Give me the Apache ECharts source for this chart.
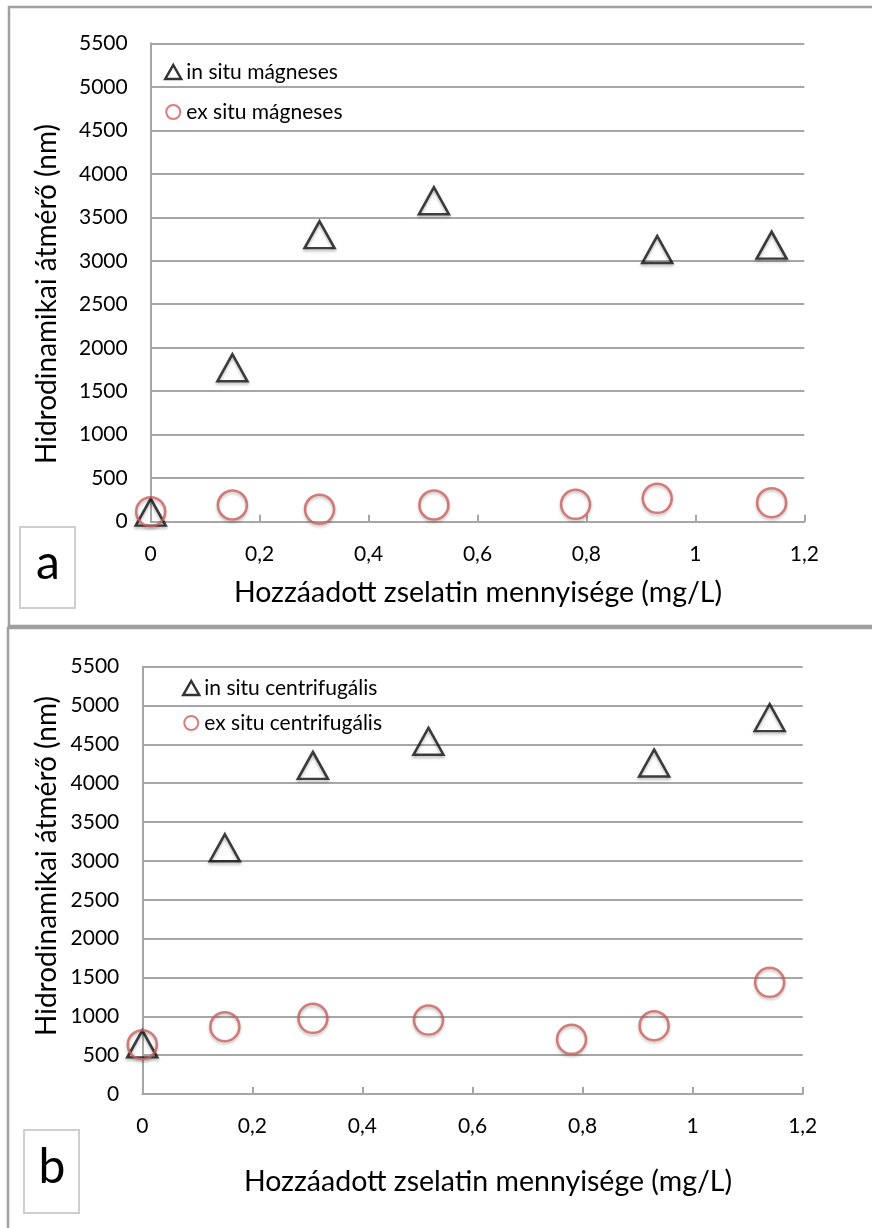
<!DOCTYPE html>
<html><head><meta charset="utf-8">
<script src="https://cdn.jsdelivr.net/npm/echarts@6/dist/echarts.min.js"></script>
<style>html,body{margin:0;padding:0;background:#fff}#c{width:872px;height:1228px}</style>
</head><body><div id="c"></div>
<script>
const xInSitu = [0, 0.15, 0.31, 0.52, 0.93, 1.14];
const xExSitu = [0, 0.15, 0.31, 0.52, 0.78, 0.93, 1.14];
const inSituMagn = [110, 1770, 3300, 3690, 3130, 3180];
const exSituMagn = [115, 192, 143, 192, 200, 269, 218];
const inSituCentr = [645, 3170, 4230, 4540, 4260, 4845];
const exSituCentr = [635, 866, 974, 952, 704, 879, 1437];
const namesA = ['in situ mágneses', 'ex situ mágneses'];
const namesB = ['in situ centrifugális', 'ex situ centrifugális'];
const yTitle = 'Hidrodinamikai átmérő (nm)';
const xTitle = 'Hozzáadott zselatin mennyisége (mg/L)';

const FONT = 'Lato';
const GRID_C = '#a6a6a6';
const pair = (xs, ys) => xs.map((x, i) => [x, ys[i]]);
const fmtX = v => String(+(+v).toFixed(1)).replace('.', ',');
const fmtY = v => String(Math.round(v));

function xAx(gi) {
  return {
    gridIndex: gi, type: 'value', min: 0, max: 1.2, interval: 0.2,
    axisLine: { lineStyle: { color: GRID_C, width: 2 } },
    axisTick: { inside: true, length: 7, lineStyle: { color: GRID_C, width: 2 } },
    splitLine: { show: false },
    axisLabel: { formatter: fmtX, color: '#000', fontFamily: FONT, fontSize: 21, margin: 22 }
  };
}
function yAx(gi) {
  return {
    gridIndex: gi, type: 'value', min: 0, max: 5500, interval: 500,
    axisLine: { show: true, lineStyle: { color: GRID_C, width: 2 } },
    axisTick: { show: false },
    splitLine: { lineStyle: { color: GRID_C, width: 2 } },
    axisLabel: { formatter: fmtY, color: '#000', fontFamily: FONT, fontSize: 21, margin: 23 }
  };
}
const triStyle = { color: 'rgba(255,255,255,0)', borderColor: '#111', borderWidth: 2.5,
  shadowColor: 'rgba(0,0,0,0.35)', shadowBlur: 3, shadowOffsetY: 2 };
const cirStyle = { color: 'rgba(255,255,255,0)', borderColor: '#cc5f5c', borderWidth: 2.5,
  shadowColor: 'rgba(0,0,0,0.3)', shadowBlur: 3, shadowOffsetY: 2 };

function tri(name, gi, data) {
  return { name, type: 'scatter', xAxisIndex: gi, yAxisIndex: gi, data,
    symbol: 'triangle', symbolSize: [30, 27], itemStyle: triStyle, z: 3 };
}
function cir(name, gi, data) {
  return { name, type: 'scatter', xAxisIndex: gi, yAxisIndex: gi, data,
    symbol: 'circle', symbolSize: 29, itemStyle: cirStyle, z: 4 };
}
function legend(names, left, top, gap) {
  return { orient: 'vertical', left, top, padding: 0, itemGap: gap, itemWidth: 16, itemHeight: 14,
    data: [
      { name: names[0], itemStyle: { color: 'rgba(255,255,255,0)', borderColor: '#000', borderWidth: 2.5, shadowBlur: 0 } },
      { name: names[1], itemStyle: { color: 'rgba(255,255,255,0)', borderColor: '#cc5f5c', borderWidth: 2, shadowBlur: 0 } }
    ],
    textStyle: { color: '#000', fontFamily: FONT, fontSize: 21, lineHeight: 22 } };
}
function txt(text, x, y, size, rot) {
  return { type: 'text', x, y, rotation: rot || 0, z: 10,
    style: { text, fill: '#000', font: size + 'px ' + FONT, textAlign: 'center', textVerticalAlign: 'middle' } };
}

const chart = echarts.init(document.getElementById('c'), null, { renderer: 'canvas' });
chart.setOption({
  backgroundColor: '#fff',
  animation: false,
  grid: [
    { left: 150.7, top: 43.3, width: 653.6, height: 478.4 },
    { left: 142.3, top: 666.7, width: 660.4, height: 427.3 }
  ],
  xAxis: [xAx(0), xAx(1)],
  yAxis: [yAx(0), yAx(1)],
  legend: [legend(namesA, 164, 61, 18), legend(namesB, 182, 677, 13)],
  series: [
    tri(namesA[0], 0, pair(xInSitu, inSituMagn)),
    cir(namesA[1], 0, pair(xExSitu, exSituMagn)),
    tri(namesB[0], 1, pair(xInSitu, inSituCentr)),
    cir(namesB[1], 1, pair(xExSitu, exSituCentr))
  ],
  graphic: [
    { type: 'rect', shape: { x: 9, y: 7, width: 900, height: 619 }, style: { fill: 'none', stroke: '#a0a0a0', lineWidth: 2.5 }, z: 0 },
    { type: 'rect', shape: { x: 8, y: 628, width: 900, height: 700 }, style: { fill: 'none', stroke: '#a0a0a0', lineWidth: 2.5 }, z: 0 },
    { type: 'rect', shape: { x: 20, y: 527, width: 55, height: 81 }, style: { fill: '#fff', stroke: '#cfcfcf', lineWidth: 2 }, z: 5 },
    { type: 'rect', shape: { x: 24, y: 1130, width: 55, height: 83 }, style: { fill: '#fff', stroke: '#cfcfcf', lineWidth: 2 }, z: 5 },
    txt('a', 48, 564, 48),
    txt('b', 52, 1168, 48),
    txt(yTitle, 47, 294, 28, Math.PI / 2),
    txt(yTitle, 47, 866, 28, Math.PI / 2),
    txt(xTitle, 478, 593, 28.5),
    txt(xTitle, 488, 1182, 28.5)
  ]
});
</script></body></html>
